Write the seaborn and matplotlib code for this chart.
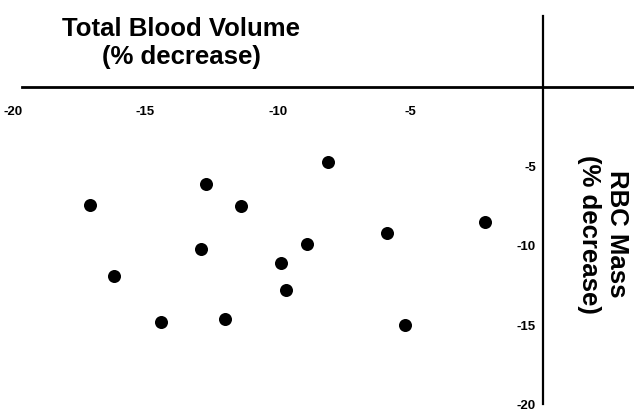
import matplotlib
matplotlib.use("Agg")
import matplotlib.pyplot as plt
import seaborn as sns
import pandas as pd

# Percent decrease in total blood volume vs. percent decrease in RBC mass
tbv_decrease = [-17.1, -16.2, -14.4, -12.7, -12.9, -12.0, -11.4,
                -9.9, -9.7, -8.9, -8.1, -5.9, -5.2, -2.2]
rbc_decrease = [-7.4, -11.9, -14.8, -6.1, -10.2, -14.6, -7.5,
                -11.1, -12.8, -9.9, -4.7, -9.2, -15.0, -8.5]

x_ticks = [-20, -15, -10, -5]
y_ticks = [-5, -10, -15, -20]

x_title = "Total Blood Volume\n(% decrease)"
y_title = "RBC Mass\n(% decrease)"

df = pd.DataFrame({"tbv": tbv_decrease, "rbc": rbc_decrease})

sns.set_style("white")
plt.rcParams["font.family"] = ["Liberation Sans", "DejaVu Sans"]
plt.rcParams["text.color"] = "black"
tick_family = ["Liberation Sans Narrow", "Liberation Sans", "DejaVu Sans"]

fig = plt.figure(figsize=(6.34, 4.11), dpi=100)
ax = fig.add_axes([0, 0, 1, 1])

sns.scatterplot(data=df, x="tbv", y="rbc", ax=ax, color="black",
                s=88, linewidth=0, legend=False, zorder=3)

ax.set_xlim(-20.49, 3.434)
ax.set_ylim(-20.38, 5.47)

# Axis lines cross at the origin
for side in ("top", "right"):
    ax.spines[side].set_visible(False)
ax.spines["bottom"].set_position(("data", 0))
ax.spines["left"].set_position(("data", 0))
ax.spines["bottom"].set_bounds(-19.66, 3.434)
ax.spines["left"].set_bounds(-19.95, 4.47)
ax.spines["bottom"].set_linewidth(2.0)
ax.spines["left"].set_linewidth(1.6)
ax.spines["bottom"].set_color("black")
ax.spines["left"].set_color("black")
ax.spines["bottom"].set_zorder(2)
ax.spines["left"].set_zorder(2)

ax.set_xticks(x_ticks)
ax.set_yticks(y_ticks)
ax.set_xticklabels([str(v) for v in x_ticks])
ax.set_yticklabels([str(v) for v in y_ticks])
ax.tick_params(axis="x", length=0, pad=14)
ax.tick_params(axis="y", length=0, pad=5)
for lab in ax.get_xticklabels() + ax.get_yticklabels():
    lab.set_family(tick_family)
    lab.set_fontweight("bold")
    lab.set_fontsize(9.5)
    lab.set_color("black")

ax.set_xlabel("")
ax.set_ylabel("")
ax.grid(False)

fig.text(181 / 634, 1 - 43 / 411, x_title, ha="center", va="center",
         fontsize=18.5, fontweight="bold", linespacing=1.2,
         multialignment="center", color="black")
fig.text(603 / 634, 1 - 234 / 411, y_title, ha="center", va="center",
         rotation=270, fontsize=18.5, fontweight="bold", linespacing=1.25,
         multialignment="center", color="black")

fig.savefig("out.png", dpi=100, facecolor="white")
